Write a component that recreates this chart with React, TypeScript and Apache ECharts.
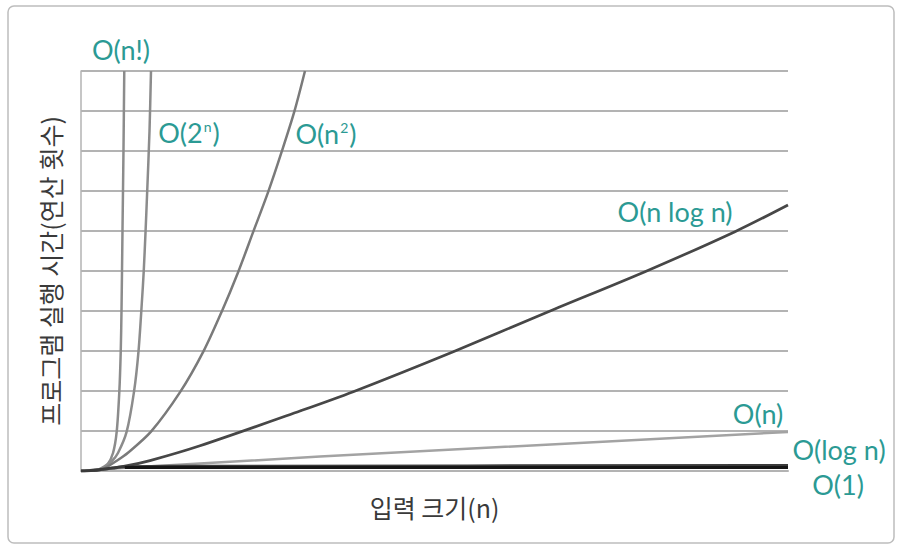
import React, { useEffect, useRef } from 'react';
import * as echarts from 'echarts';

// Axis ranges (arbitrary units: input size vs. operation count)
const X_MIN = 0;
const X_MAX = 100;
const Y_MIN = 0;
const Y_MAX = 100;
const Y_INTERVAL = 10;

const xTitle = '입력 크기(n)';
const yTitle = '프로그램 실행 시간(연산 횟수)';

// Curve points: [input size, operations]
const factorialPts = [
  [0, 0], [1.4, 0.1], [2.69, 0.3], [3.7, 1.5], [4.53, 4.5], [5.05, 9.83], [5.42, 19.83],
  [5.62, 29.83], [5.73, 40.25], [5.87, 60.25], [6.01, 80.25], [6.12, 100],
];
const expPts = [
  [0, 0], [1.4, 0.1], [2.5, 0.4], [3.37, 1.25], [4.38, 2.5], [5.23, 4.5], [6.46, 9.83],
  [7.5, 19.83], [8.13, 29.83], [8.63, 42.75], [8.87, 49.83], [9.13, 59.83],
  [9.36, 69.83], [9.69, 85], [9.9, 100],
];
const squarePts = [
  [0, 0], [1.4, 0.1], [2.69, 0.35], [3.4, 0.75], [5.0, 2.5], [6.6, 4.5], [9.9, 9.83],
  [14.06, 19.83], [17.3, 29.83], [19.9, 39.83], [22.25, 49.83], [24.37, 59.83],
  [26.49, 69.83], [28.39, 79.83], [30.17, 89.83], [31.68, 100],
];
const nlognPts = [
  [0, 0], [1.4, 0.1], [2.69, 0.3], [6.2, 1.2], [9.76, 2.6], [16.83, 6.3], [30.98, 15.0],
  [38.51, 19.83], [52.66, 29.83], [66.1, 39.83], [79.77, 49.83], [92.5, 59.83],
  [100, 66.5],
];
const linearPts = [[0, 0], [2.7, 0.45], [33.8, 3.6], [100, 9.75]];
const logPts = [
  [0, 0], [1.4, 0.15], [2.7, 0.35], [4.5, 0.75], [6.2, 1.05], [20, 1.2], [100, 1.35],
];
const constPts = [[6.2, 0.85], [100, 0.85]];

const labelFont = 'Lato, "Liberation Sans", sans-serif';
const teal = '#2b9a94';

export default function App() {
  const ref = useRef<HTMLDivElement>(null);

  useEffect(() => {
    if (!ref.current) return;
    const chart = echarts.init(ref.current, undefined, { renderer: 'svg' });

    const line = (name: string, data: number[][], color: string, width: number, z = 2, smooth: number | boolean = 0.3) => ({
      name,
      type: 'line',
      data,
      symbol: 'none',
      smooth,
      clip: true,
      z,
      lineStyle: { color, width, cap: 'butt' },
      emphasis: { disabled: true },
    });

    const label = (text: string, x: number, y: number, rich?: any) => ({
      type: 'text',
      x,
      y,
      z: 100,
      style: {
        text,
        fill: teal,
        fontSize: 27,
        fontFamily: labelFont,
        align: 'center',
        verticalAlign: 'middle',
        rich,
      },
    });

    const supRich = {
      a: { fontSize: 27, fontFamily: labelFont, color: teal, lineHeight: 32 },
      s: { fontSize: 14, fontFamily: labelFont, color: teal, lineHeight: 14, verticalAlign: 'top', padding: [3, 1, 0, 1] },
    };

    const titleStyle = { fontSize: 25, color: '#3a3a3a', fontFamily: '"Noto Sans CJK KR", sans-serif' };

    chart.setOption({
      animation: false,
      grid: { left: 81, right: 112, top: 71, bottom: 78, containLabel: false },
      xAxis: {
        type: 'value',
        min: X_MIN,
        max: X_MAX,
        axisLine: { show: true, lineStyle: { color: '#b3b3b3', width: 2 } },
        axisTick: { show: false },
        axisLabel: { show: false },
        splitLine: { show: false },
        name: xTitle,
        nameLocation: 'middle',
        nameGap: 23,
        nameTextStyle: titleStyle,
      },
      yAxis: {
        type: 'value',
        min: Y_MIN,
        max: Y_MAX,
        interval: Y_INTERVAL,
        axisLine: { show: true, lineStyle: { color: '#b3b3b3', width: 1.5 } },
        axisTick: { show: false },
        axisLabel: { show: false },
        splitLine: { show: true, lineStyle: { color: '#b3b3b3', width: 2 } },
        name: yTitle,
        nameLocation: 'middle',
        nameGap: 19,
        nameTextStyle: titleStyle,
      },
      series: [
        line('O(n!)', factorialPts, '#8c8c8c', 2.5),
        line('O(2^n)', expPts, '#8c8c8c', 2.5),
        line('O(n^2)', squarePts, '#7a7a7a', 2.5),
        line('O(n log n)', nlognPts, '#474747', 2.7),
        line('O(n)', linearPts, '#a3a3a3', 2.5, 2, false),
        line('O(log n)', logPts, '#3a3a3a', 3, 3),
        line('O(1)', constPts, '#161616', 3, 4, false),
      ],
      graphic: [
        {
          type: 'rect',
          z: 0,
          silent: true,
          shape: { x: 8, y: 6, width: 886, height: 537, r: 6 },
          style: { fill: 'none', stroke: '#bdbdbd', lineWidth: 1.5 },
        },
        label('O(n!)', 121, 49),
        label('{a|O(2}{s|n}{a|)}', 189, 132, supRich),
        label('{a|O(n}{s|2}{a|)}', 326, 133, supRich),
        label('O(n log n)', 675, 211),
        label('O(n)', 758, 413),
        label('O(log n)', 839, 449),
        label('O(1)', 838, 484),
      ],
    });

    return () => chart.dispose();
  }, []);

  return (
    <div
      ref={ref}
      style={{ position: 'fixed', left: 0, top: 0, width: 900, height: 549, background: '#fff' }}
    />
  );
}
